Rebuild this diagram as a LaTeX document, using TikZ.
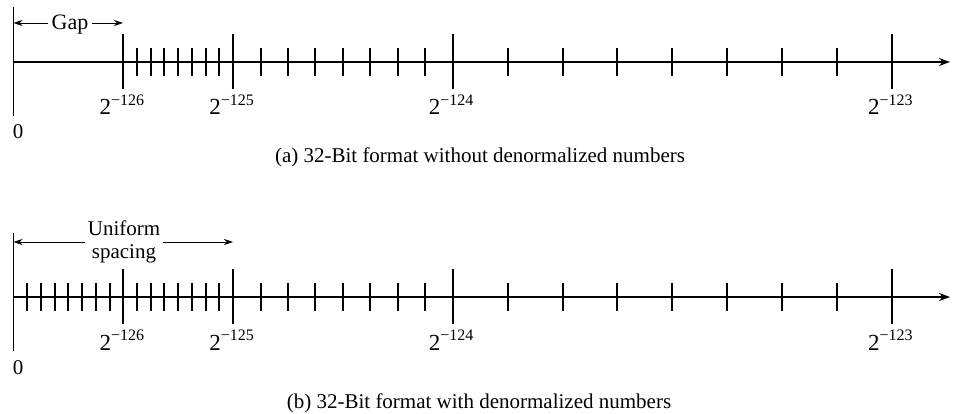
\documentclass[tikz,border=0pt]{standalone}
\usepackage{fontspec}
\setmainfont{Liberation Serif}
\usetikzlibrary{arrows.meta}
\newcommand\powtwo[1]{2\raisebox{9.5pt}{\fontsize{16}{16}\selectfont −#1}}
\begin{document}
\begin{tikzpicture}[x=1pt,y=-1pt,
  axisline/.style={line width=1.6pt,-{Stealth[length=11pt,width=8pt]}},
  zeroline/.style={line width=1.3pt},
  majtick/.style={line width=1.3pt},
  mintick/.style={line width=1.3pt},
  dimarrow/.style={line width=0.9pt,-{Stealth[length=9pt,width=6pt]}},
  lbl/.style={font=\fontsize{23}{23}\selectfont, inner sep=0pt, anchor=base},
  captext/.style={font=\fontsize{21}{21}\selectfont, inner sep=0pt, anchor=base},
]
\useasboundingbox (0,0) rectangle (954,414);
\def\ox{13.5}
\def\sc{109.8}
\newcommand\ticks[3]{%
  \foreach \v in {#1} {\pgfmathsetmacro\xx{round(\ox+\sc*\v)}
    \draw[mintick] (\xx,#2) -- (\xx,#3);}}
% ---------- (a) ----------
\coordinate (a0) at (\ox,62);
\coordinate (aend) at (950,62);
\draw[zeroline] (\ox,7) -- (\ox,116);
\draw[axisline] (a0) -- (aend);
\foreach \v in {1,2,4,8} {\pgfmathsetmacro\xx{round(\ox+\sc*\v)}
  \draw[majtick] (\xx,34) -- (\xx,89);}
\ticks{1.125,1.25,...,1.9}{48}{76}
\ticks{2.25,2.5,...,3.9}{48}{76}
\ticks{4.5,5,...,7.9}{48}{76}
\node[captext] (az) at (18,139) {0};
\node[lbl] (a126) at ({\ox+\sc*1-1.5},115) {\powtwo{126}};
\node[lbl] (a125) at ({\ox+\sc*2-1.5},115) {\powtwo{125}};
\node[lbl] (a124) at ({\ox+\sc*4-1.5},115) {\powtwo{124}};
\node[lbl] (a123) at ({\ox+\sc*8-1.5},115) {\powtwo{123}};
\node[captext,font=\fontsize{22}{22}\selectfont,inner sep=3pt] (gap) at (70,30) {Gap};
\coordinate (gapl) at (\ox,23);
\coordinate (gapr) at (123,23);
\draw[dimarrow] (gap.west |- gapl) -- (gapl);
\draw[dimarrow] (gap.east |- gapr) -- (gapr);
\node[captext] (capa) at (480,163) {(a) 32-Bit format without denormalized numbers};
% ---------- (b) ----------
\coordinate (b0) at (\ox,297);
\coordinate (bend) at (950,297);
\draw[zeroline] (\ox,233) -- (\ox,351);
\draw[axisline] (b0) -- (bend);
\foreach \v in {1,2,4,8} {\pgfmathsetmacro\xx{round(\ox+\sc*\v)}
  \draw[majtick] (\xx,269) -- (\xx,324);}
\ticks{0.125,0.25,...,0.9}{283}{311}
\ticks{1.125,1.25,...,1.9}{283}{311}
\ticks{2.25,2.5,...,3.9}{283}{311}
\ticks{4.5,5,...,7.9}{283}{311}
\node[captext] (bz) at (18,374) {0};
\node[lbl] (b126) at ({\ox+\sc*1-1.5},350) {\powtwo{126}};
\node[lbl] (b125) at ({\ox+\sc*2-1.5},350) {\powtwo{125}};
\node[lbl] (b124) at ({\ox+\sc*4-1.5},350) {\powtwo{124}};
\node[lbl] (b123) at ({\ox+\sc*8-1.5},350) {\powtwo{123}};
\node[font=\fontsize{21}{23}\selectfont, inner sep=3pt, align=center] (unif) at (124,242) {Uniform\\spacing};
\coordinate (unl) at (\ox,242);
\coordinate (unr) at (233,242);
\draw[dimarrow] (unif.west |- unl) -- (unl);
\draw[dimarrow] (unif.east |- unr) -- (unr);
\node[captext] (capb) at (479,408) {(b) 32-Bit format with denormalized numbers};
\end{tikzpicture}
\end{document}
